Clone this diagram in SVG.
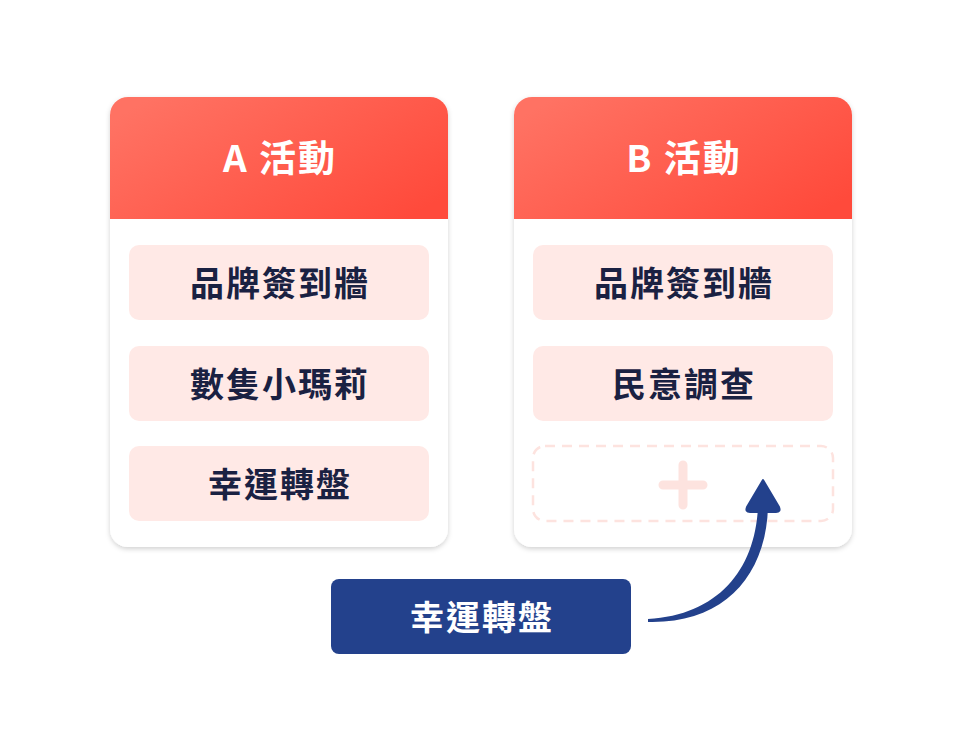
<svg xmlns="http://www.w3.org/2000/svg" width="962" height="751" viewBox="0 0 962 751">
<style>
.item{fill:#FFE9E6}
.itxt{font-family:"Noto Sans CJK TC","Noto Sans",sans-serif;font-weight:700;font-size:34px;fill:#1A2142;text-anchor:middle;letter-spacing:2px}
.htxt{font-family:"Noto Sans CJK TC","Noto Sans",sans-serif;font-weight:700;font-size:37px;fill:#FFFFFF;text-anchor:middle;letter-spacing:2px}
.ltxt{font-family:"Noto Sans CJK TC","Noto Sans",sans-serif;font-weight:700;font-size:34px;fill:#FFFFFF;text-anchor:middle;letter-spacing:2px}
</style>
<defs>
<linearGradient id="hg" x1="0" y1="0.2" x2="1" y2="0.8">
<stop offset="0" stop-color="#FF7263"/>
<stop offset="1" stop-color="#FF4A3B"/>
</linearGradient>
<filter id="sh" x="-10%" y="-10%" width="120%" height="120%">
<feDropShadow dx="0" dy="2" stdDeviation="2.5" flood-color="#000" flood-opacity="0.18"/>
</filter>
<clipPath id="ca"><rect x="110" y="97" width="338" height="450" rx="18"/></clipPath>
<clipPath id="cb"><rect x="514" y="97" width="338" height="450" rx="18"/></clipPath>
</defs>
<rect width="962" height="751" fill="#FFFFFF"/>
<g id="cardA">
<rect x="110" y="97" width="338" height="450" rx="18" fill="#FFFFFF" filter="url(#sh)"/>
<rect x="110" y="97" width="338" height="122" fill="url(#hg)" clip-path="url(#ca)"/>
<text class="htxt" x="280" y="172">A 活動</text>
<rect class="item" x="129" y="245" width="300" height="75" rx="10"/>
<text class="itxt" x="280" y="296">品牌簽到牆</text>
<rect class="item" x="129" y="346" width="300" height="75" rx="10"/>
<text class="itxt" x="280" y="397">數隻小瑪莉</text>
<rect class="item" x="129" y="446" width="300" height="75" rx="10"/>
<text class="itxt" x="280" y="497">幸運轉盤</text>
</g>
<g id="cardB">
<rect x="514" y="97" width="338" height="450" rx="18" fill="#FFFFFF" filter="url(#sh)"/>
<rect x="514" y="97" width="338" height="122" fill="url(#hg)" clip-path="url(#cb)"/>
<text class="htxt" x="684" y="172">B 活動</text>
<rect class="item" x="533" y="245" width="300" height="75" rx="10"/>
<text class="itxt" x="684" y="296">品牌簽到牆</text>
<rect class="item" x="533" y="346" width="300" height="75" rx="10"/>
<text class="itxt" x="684" y="397">民意調查</text>
<g id="slot">
<rect x="533" y="446" width="300" height="75" rx="12" fill="none" stroke="#FDE3DF" stroke-width="2.5" stroke-dasharray="10 7"/>
<path d="M683 465 V505 M663 485 H703" stroke="#FDE3DF" stroke-width="9" stroke-linecap="round" fill="none"/>
</g>
</g>
<g id="label">
<rect x="331" y="579" width="300" height="75" rx="8" fill="#23418C"/>
<text class="ltxt" x="482" y="630">幸運轉盤</text>
</g>
<g id="connectors">
<path d="M648 619 C718 615 755 570 758 507 L768 507 C766 576 724 624 648 622 Z" fill="#23418C"/>
<path d="M763 480 L779 507 Q781 512 776 512 L750 512 Q745 512 747 507 Z" fill="#23418C" stroke="#23418C" stroke-width="2" stroke-linejoin="round"/>
</g>
</svg>
